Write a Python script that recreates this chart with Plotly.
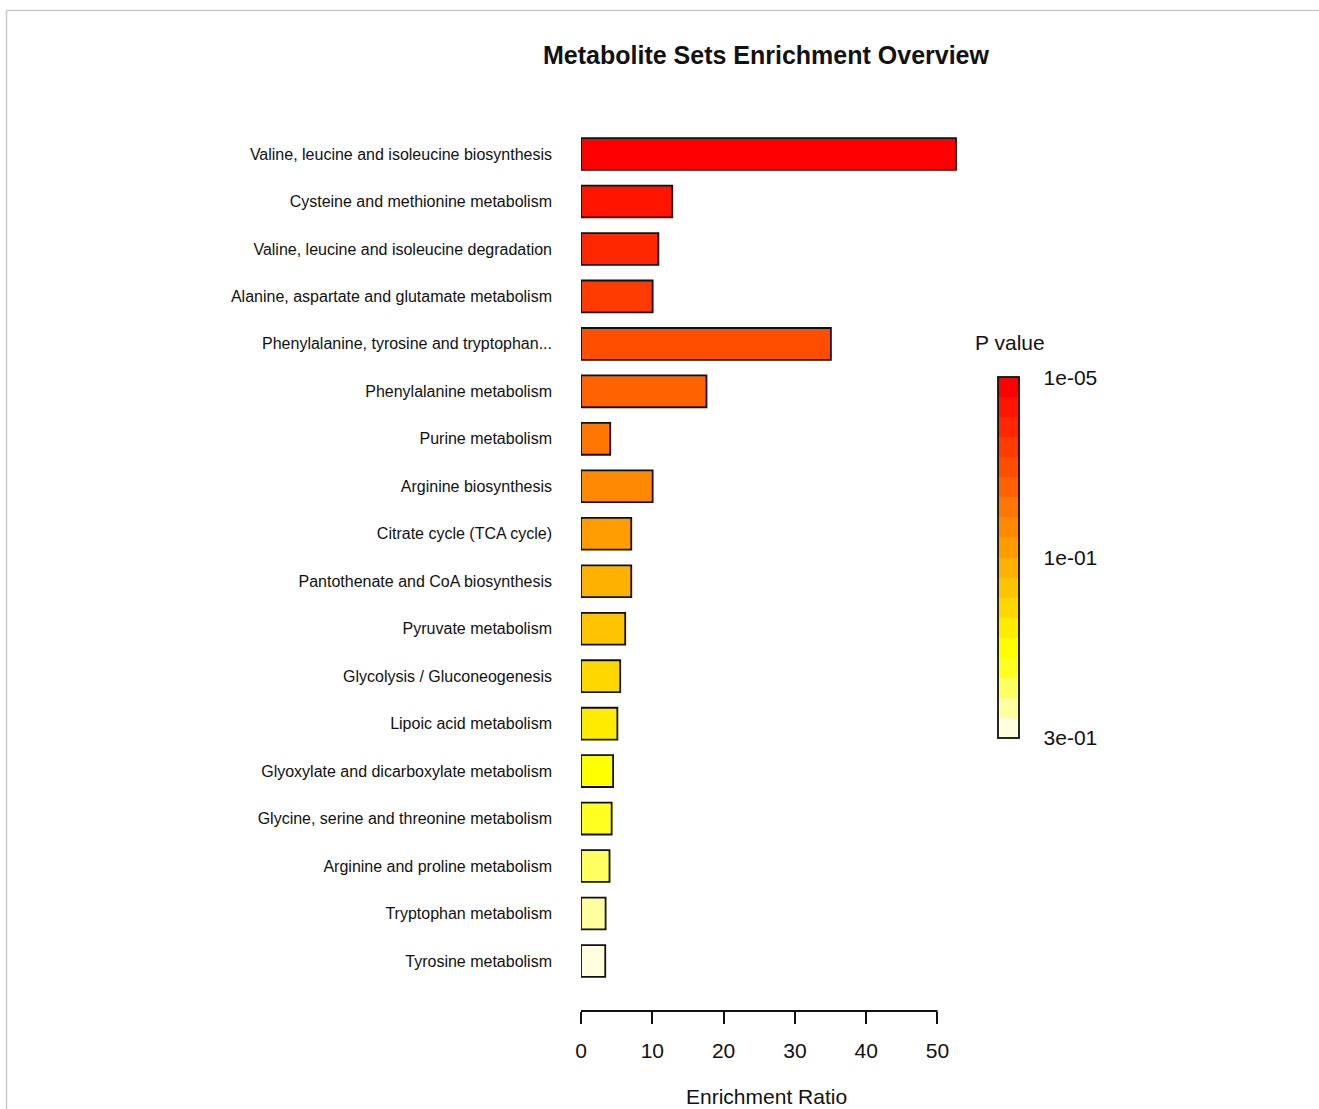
import plotly.graph_objects as go
import colorsys

# ---------------- data ----------------
pathways = [
    "Valine, leucine and isoleucine biosynthesis",
    "Cysteine and methionine metabolism",
    "Valine, leucine and isoleucine degradation",
    "Alanine, aspartate and glutamate metabolism",
    "Phenylalanine, tyrosine and tryptophan...",
    "Phenylalanine metabolism",
    "Purine metabolism",
    "Arginine biosynthesis",
    "Citrate cycle (TCA cycle)",
    "Pantothenate and CoA biosynthesis",
    "Pyruvate metabolism",
    "Glycolysis / Gluconeogenesis",
    "Lipoic acid metabolism",
    "Glyoxylate and dicarboxylate metabolism",
    "Glycine, serine and threonine metabolism",
    "Arginine and proline metabolism",
    "Tryptophan metabolism",
    "Tyrosine metabolism",
]
enrichment_ratio = [52.6, 12.8, 10.85, 10.05, 35.05, 17.6, 4.1, 10.05, 7.05,
                    7.05, 6.2, 5.5, 5.1, 4.5, 4.3, 4.0, 3.45, 3.4]
# p-value level (17 = most significant / red, 0 = least / pale yellow)
pvalue_level = [17, 16, 15, 14, 13, 12, 11, 10, 9, 8, 7, 6, 5, 4, 3, 2, 1, 0]
x_ticks = [0, 10, 20, 30, 40, 50]
cbar_ticktext = ["1e-05", "1e-01", "3e-01"]

# ---------------- heat colours (R heat.colors(18)) ----------------
n = len(pathways)
j = n // 4
i_ = n - j
heat = []
for k in range(i_):
    h = (1 / 6) * k / (i_ - 1)
    r, g, b = colorsys.hsv_to_rgb(h, 1, 1)
    heat.append("#%02X%02X%02X" % (round(r * 255), round(g * 255), round(b * 255)))
for k in range(j):
    s = (1 - 1 / (2 * j)) - k * ((1 - 1 / (2 * j)) - 1 / (2 * j)) / (j - 1)
    r, g, b = colorsys.hsv_to_rgb(1 / 6, s, 1)
    heat.append("#%02X%02X%02X" % (round(r * 255), round(g * 255), round(b * 255)))
# heat[0] = red ... heat[-1] = pale
colorscale = []
for k in range(n):
    c = heat[n - 1 - k]
    colorscale.append([k / n, c])
    colorscale.append([(k + 1) / n, c])

# ---------------- geometry ----------------
W, H = 1319, 1109
L, T, B = 581, 110, 1011
PW = 385
PH = B - T
R = W - L - PW

def px(x):
    return (x - L) / PW

def py(y):
    return (B - y) / PH

FONT = "Liberation Sans, Arial, sans-serif"

fig = go.Figure()
fig.add_trace(go.Bar(
    y=pathways,
    x=enrichment_ratio,
    orientation="h",
    width=0.67,
    marker=dict(
        color=pvalue_level,
        colorscale=colorscale,
        cmin=-0.5,
        cmax=n - 0.5,
        line=dict(color="#111111", width=1.8),
        colorbar=dict(
            x=px(998), xanchor="left",
            y=py(557.5), yanchor="middle",
            len=361, lenmode="pixels",
            thickness=21,
            xpad=0, ypad=0,
            outlinewidth=1.8, outlinecolor="#111111",
            tickvals=[n - 0.51, (n - 1) / 2, -0.49],
            ticktext=cbar_ticktext,
            ticks="outside", ticklen=20, tickcolor="rgba(0,0,0,0)",
            tickfont=dict(size=21, color="#111111", family=FONT),
        ),
    ),
    hoverinfo="x+y",
))

fig.update_layout(
    width=W, height=H,
    margin=dict(l=L, r=R, t=T, b=H - B, pad=0),
    paper_bgcolor="white", plot_bgcolor="white",
    showlegend=False,
    font=dict(family=FONT, color="#111111"),
    xaxis=dict(
        range=[0, 54], showgrid=False, zeroline=False, showline=False,
        tickvals=x_ticks, ticks="outside", ticklen=12, tickwidth=1.8,
        tickcolor="#111111", ticklabelstandoff=9,
        tickfont=dict(size=21, color="#111111", family=FONT),
    ),
    yaxis=dict(
        categoryorder="array", categoryarray=pathways,
        range=[n - 1 + 50 / 47.47, -44 / 47.47],
        showgrid=False, zeroline=False, showline=False,
        ticks="", ticklabelstandoff=28,
        tickfont=dict(size=16, color="#111111", family=FONT),
    ),
    shapes=[
        dict(type="line", xref="x", yref="paper", x0=0, x1=50, y0=0, y1=0,
             line=dict(color="#111111", width=1.8)),
        dict(type="line", xref="paper", yref="paper", x0=px(6), x1=px(W), y0=py(10.5), y1=py(10.5),
             line=dict(color="#C8C8C8", width=1.5)),
        dict(type="line", xref="paper", yref="paper", x0=px(6.5), x1=px(6.5), y0=py(10), y1=py(H),
             line=dict(color="#C8C8C8", width=1.5)),
    ],
    annotations=[
        dict(text="<b>Metabolite Sets Enrichment Overview</b>", xref="paper", yref="paper",
             x=px(766), y=py(55), xanchor="center", yanchor="middle", showarrow=False,
             font=dict(size=25, color="#111111", family=FONT)),
        dict(text="Enrichment Ratio", xref="paper", yref="paper",
             x=px(766), y=py(1096), xanchor="center", yanchor="middle", showarrow=False,
             font=dict(size=21, color="#111111", family=FONT)),
        dict(text="P value", xref="paper", yref="paper",
             x=px(973), y=py(342), xanchor="left", yanchor="middle", showarrow=False,
             font=dict(size=21, color="#111111", family=FONT)),
    ],
)

fig.write_html("out.html")
